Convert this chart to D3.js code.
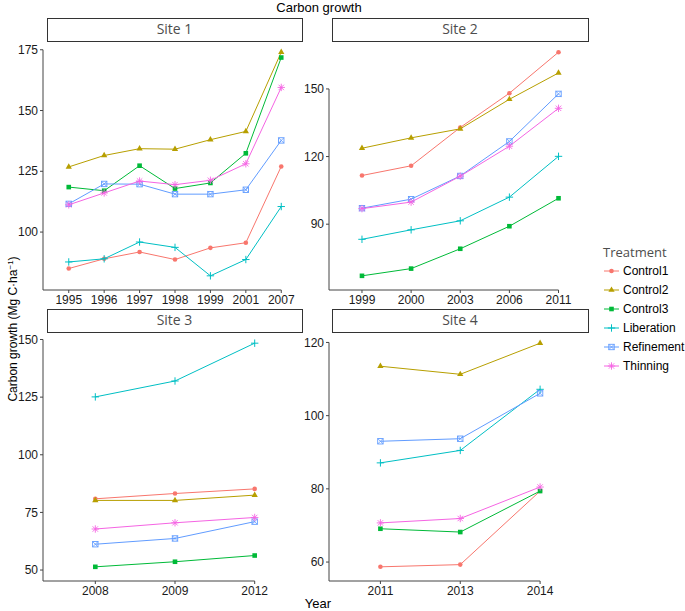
<!DOCTYPE html>
<html><head><meta charset="utf-8">
<script src="https://cdn.jsdelivr.net/npm/d3@7"></script>
<style>html,body{margin:0;padding:0;background:#fff}</style>
</head><body>
<svg id="chart" width="685" height="611"></svg>
<script>
const treatments = ["Control1","Control2","Control3","Liberation","Refinement","Thinning"];
const colors = ["#F8766D","#B79F00","#00BA38","#00BFC4","#619CFF","#F564E3"];

const site1Years = ["1995","1996","1997","1998","1999","2001","2007"];
const site1Control1   = [85.0, 89.0, 91.8, 88.7, 93.5, 95.6, 127.0];
const site1Control2   = [126.8,131.5,134.3,134.1,138.0,141.4,174.0];
const site1Control3   = [118.5,117.0,127.3,117.9,120.2,132.4,171.8];
const site1Liberation = [87.7, 89.0, 95.9, 93.7, 82.0, 88.7, 110.5];
const site1Refinement = [111.6,119.8,119.7,115.6,115.6,117.4,137.7];
const site1Thinning   = [111.2,116.1,121.0,119.5,121.3,128.1,159.5];
const site1Ticks = [100,125,150,175];

const site2Years = ["1999","2000","2003","2006","2011"];
const site2Control1   = [111.6,115.9,132.9,148.1,166.3];
const site2Control2   = [123.7,128.3,132.3,145.4,157.1];
const site2Control3   = [67.1, 70.3, 79.1, 89.1, 101.5];
const site2Liberation = [83.3, 87.5, 91.5, 102.0,120.1];
const site2Refinement = [97.1, 101.1,111.4,126.7,147.8];
const site2Thinning   = [96.9, 99.8, 111.3,124.6,141.4];
const site2Ticks = [90,120,150];

const site3Years = ["2008","2009","2012"];
const site3Control1   = [80.9, 83.2, 85.2];
const site3Control2   = [80.2, 80.2, 82.5];
const site3Control3   = [51.4, 53.6, 56.3];
const site3Liberation = [125.1,132.0,148.4];
const site3Refinement = [61.2, 63.7, 71.0];
const site3Thinning   = [67.8, 70.5, 72.8];
const site3Ticks = [50,75,100,125,150];

const site4Years = ["2011","2013","2014"];
const site4Control1   = [58.7, 59.3, 79.4];
const site4Control2   = [113.5,111.3,119.8];
const site4Control3   = [69.1, 68.2, 79.4];
const site4Liberation = [87.1, 90.5, 107.2];
const site4Refinement = [93.0, 93.7, 106.1];
const site4Thinning   = [70.7, 71.9, 80.5];
const site4Ticks = [60,80,100,120];

const siteNames = ["Site 1","Site 2","Site 3","Site 4"];

const sites = [
  {name: siteNames[0], years: site1Years, ticks: site1Ticks, series: [site1Control1,site1Control2,site1Control3,site1Liberation,site1Refinement,site1Thinning]},
  {name: siteNames[1], years: site2Years, ticks: site2Ticks, series: [site2Control1,site2Control2,site2Control3,site2Liberation,site2Refinement,site2Thinning]},
  {name: siteNames[2], years: site3Years, ticks: site3Ticks, series: [site3Control1,site3Control2,site3Control3,site3Liberation,site3Refinement,site3Thinning]},
  {name: siteNames[3], years: site4Years, ticks: site4Ticks, series: [site4Control1,site4Control2,site4Control3,site4Liberation,site4Refinement,site4Thinning]}
];

const svg = d3.select("#chart");
const tickFont = "'Liberation Sans', Arial, sans-serif";
const stripFont = "'Open Sans', sans-serif";

const cols = [{x0:47.5, x1:302.5, axisX:43, sx0:47, sx1:302}, {x0:332.5, x1:588, axisX:329, sx0:332, sx1:588}];
const rows = [{sy0:18, sy1:41, y0:41, y1:287, axisY:290}, {sy0:309, sy1:332, y0:332, y1:578, axisY:581}];

function drawMarker(g, type, color) {
  if (type === 0) {
    g.append("circle").attr("r", 2.3).attr("fill", color);
  } else if (type === 1) {
    g.append("path").attr("d", d3.symbol(d3.symbolTriangle, 17)()).attr("fill", color);
  } else if (type === 2) {
    g.append("rect").attr("x",-2.3).attr("y",-2.3).attr("width",4.6).attr("height",4.6).attr("fill", color);
  } else if (type === 3) {
    g.append("path").attr("d", `M-3.7,0H3.7M0,-3.7V3.7`).attr("stroke", color).attr("stroke-width",1).attr("fill","none");
  } else if (type === 4) {
    g.append("rect").attr("x",-2.7).attr("y",-2.7).attr("width",5.4).attr("height",5.4).attr("stroke", color).attr("stroke-width",0.9).attr("fill","none");
    g.append("path").attr("d", `M-2.7,-2.7L2.7,2.7M-2.7,2.7L2.7,-2.7`).attr("stroke", color).attr("stroke-width",0.8).attr("fill","none");
  } else if (type === 5) {
    g.append("path").attr("d", `M-3.7,0H3.7M0,-3.7V3.7M-2.7,-2.7L2.7,2.7M-2.7,2.7L2.7,-2.7`).attr("stroke", color).attr("stroke-width",0.9).attr("fill","none");
  }
}

sites.forEach((site, i) => {
  const c = cols[i % 2], r = rows[Math.floor(i / 2)];
  const all = site.series.flat();
  const [mn, mx] = d3.extent(all);
  const pad = (mx - mn) * 0.05;
  const y = d3.scaleLinear().domain([mn - pad, mx + pad]).range([r.y1, r.y0]);
  const x = d3.scalePoint().domain(site.years).range([c.x0, c.x1]).padding(0.6);

  svg.append("rect").attr("x", c.sx0 + 0.5).attr("y", r.sy0 + 0.5)
    .attr("width", c.sx1 - c.sx0).attr("height", r.sy1 - r.sy0)
    .attr("fill", "#fff").attr("stroke", "#333").attr("stroke-width", 1);
  svg.append("text").attr("x", (c.sx0 + c.sx1) / 2).attr("y", (r.sy0 + r.sy1) / 2 + 1)
    .attr("text-anchor", "middle").attr("dominant-baseline", "middle")
    .attr("font-family", stripFont).attr("font-size", 14).attr("fill", "#4d4d4d").text(site.name);

  const ax = svg.append("g");
  const yTop = y(d3.max(site.ticks));
  const xLast = x(site.years[site.years.length - 1]);
  ax.append("line").attr("x1", c.axisX).attr("x2", c.axisX).attr("y1", yTop).attr("y2", r.axisY)
    .attr("stroke", "#444").attr("stroke-width", 1);
  ax.append("line").attr("x1", c.axisX).attr("x2", xLast).attr("y1", r.axisY).attr("y2", r.axisY)
    .attr("stroke", "#444").attr("stroke-width", 1);
  site.ticks.forEach(t => {
    ax.append("line").attr("x1", c.axisX - 3).attr("x2", c.axisX).attr("y1", y(t)).attr("y2", y(t))
      .attr("stroke", "#444");
    ax.append("text").attr("x", c.axisX - 5).attr("y", y(t)).attr("dy", "0.35em")
      .attr("text-anchor", "end").attr("font-family", tickFont).attr("font-size", 12).attr("fill", "#1a1a1a").text(t);
  });
  site.years.forEach(yr => {
    ax.append("line").attr("x1", x(yr)).attr("x2", x(yr)).attr("y1", r.axisY).attr("y2", r.axisY + 3)
      .attr("stroke", "#444");
    ax.append("text").attr("x", x(yr)).attr("y", r.axisY + 14)
      .attr("text-anchor", "middle").attr("font-family", tickFont).attr("font-size", 12).attr("fill", "#1a1a1a").text(yr);
  });

  site.series.forEach((vals, k) => {
    const line = d3.line().x((d, j) => x(site.years[j])).y(d => y(d));
    svg.append("path").datum(vals).attr("d", line).attr("fill", "none")
      .attr("stroke", colors[k]).attr("stroke-width", 1);
    vals.forEach((v, j) => {
      const g = svg.append("g").attr("transform", `translate(${x(site.years[j])},${y(v)})`);
      drawMarker(g, k, colors[k]);
    });
  });
});

svg.append("text").attr("x", 319).attr("y", 12).attr("text-anchor", "middle")
  .attr("font-family", tickFont).attr("font-size", 13).attr("fill", "#000").text("Carbon growth");
svg.append("text").attr("x", 318).attr("y", 608).attr("text-anchor", "middle")
  .attr("font-family", tickFont).attr("font-size", 13).attr("fill", "#000").text("Year");
const yl = svg.append("text").attr("transform", "translate(17,329) rotate(-90)").attr("text-anchor", "middle")
  .attr("font-family", tickFont).attr("font-size", 12).attr("fill", "#000");
yl.append("tspan").text("Carbon growth (Mg C·ha");
yl.append("tspan").attr("dy", -4).attr("font-size", 8).text("−1");
yl.append("tspan").attr("dy", 4).text(")");

const lg = svg.append("g");
lg.append("text").attr("x", 603).attr("y", 257).attr("font-family", stripFont).attr("font-size", 13)
  .attr("fill", "#4d4d4d").text("Treatment");
treatments.forEach((t, k) => {
  const yy = 271 + k * 19;
  lg.append("line").attr("x1", 604).attr("x2", 619).attr("y1", yy).attr("y2", yy)
    .attr("stroke", colors[k]).attr("stroke-width", 1);
  const g = lg.append("g").attr("transform", `translate(611.5,${yy})`);
  drawMarker(g, k, colors[k]);
  lg.append("text").attr("x", 623).attr("y", yy).attr("dy", "0.35em").attr("font-family", tickFont)
    .attr("font-size", 12).attr("fill", "#000").text(t);
});
</script>
</body></html>
